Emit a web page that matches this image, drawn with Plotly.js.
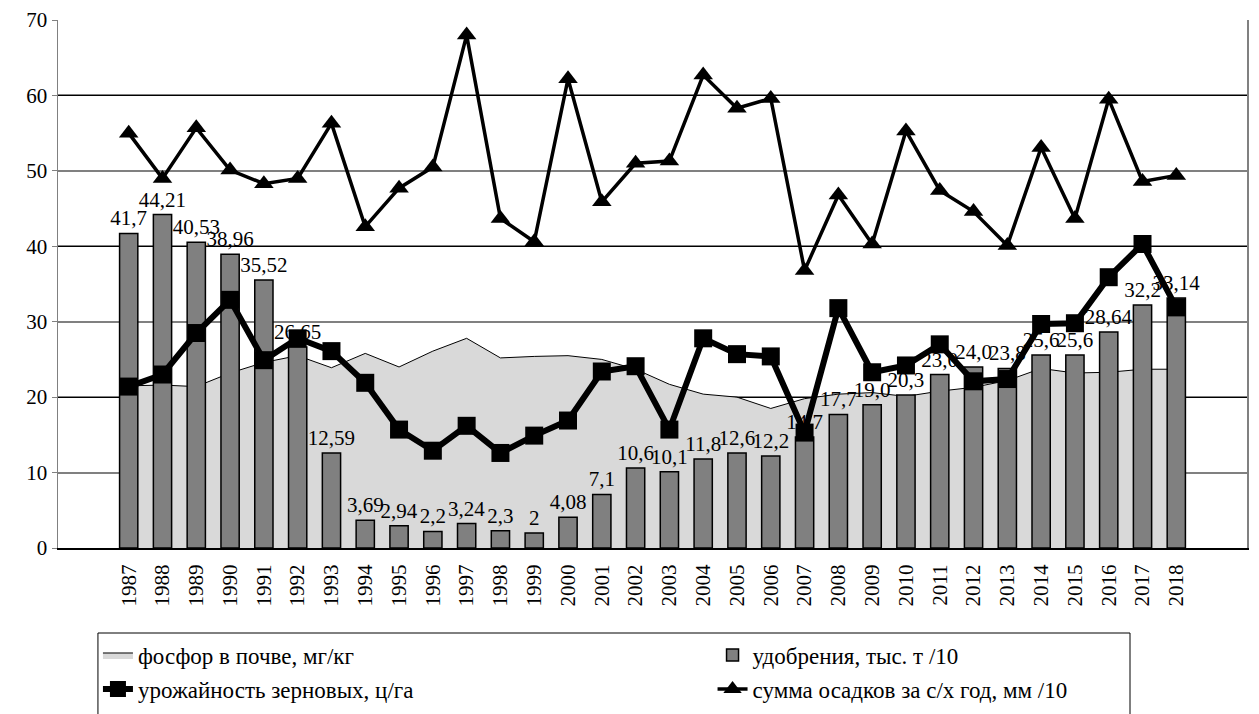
<!DOCTYPE html>
<html>
<head>
<meta charset="utf-8">
<script src="https://cdn.plot.ly/plotly-3.0.1.min.js"></script>
<style>html,body{margin:0;padding:0;background:#fff;}#chart{width:1259px;height:714px;}</style>
</head>
<body>
<div id="chart"></div>
<script>
const years = ["1987","1988","1989","1990","1991","1992","1993","1994","1995","1996","1997","1998","1999","2000","2001","2002","2003","2004","2005","2006","2007","2008","2009","2010","2011","2012","2013","2014","2015","2016","2017","2018"];
const phosphorus = [21.5,21.6,21.4,23.2,24.6,25.5,23.9,25.8,24.0,26.1,27.8,25.2,25.4,25.5,25.0,23.7,21.7,20.4,20.0,18.5,19.8,20.4,20.6,20.1,20.8,21.3,22.2,23.8,23.2,23.3,23.7,23.7];
const fertilizer = [41.7,44.21,40.53,38.96,35.52,26.65,12.59,3.69,2.94,2.2,3.24,2.3,2,4.08,7.1,10.6,10.1,11.8,12.6,12.2,14.7,17.7,19.0,20.3,23.0,24.0,23.8,25.6,25.6,28.64,32.2,33.14];
const fertilizerLabels = ["41,7","44,21","40,53","38,96","35,52","26,65","12,59","3,69","2,94","2,2","3,24","2,3","2","4,08","7,1","10,6","10,1","11,8","12,6","12,2","14,7","17,7","19,0","20,3","23,0","24,0","23,8","25,6","25,6","28,64","32,2","33,14"];
const grainYield = [21.4,23.0,28.5,32.9,24.9,27.8,26.1,21.9,15.7,12.9,16.2,12.6,14.9,16.9,23.4,24.1,15.7,27.8,25.7,25.4,15.3,31.8,23.3,24.2,27.0,22.1,22.4,29.7,29.8,35.9,40.3,31.9];
const precipitation = [55.0,49.0,55.7,50.1,48.3,49.0,56.3,42.6,47.7,50.5,68.0,43.7,40.6,62.2,45.9,51.0,51.3,62.7,58.3,59.6,36.8,46.8,40.3,55.3,47.4,44.6,40.1,53.1,43.7,59.5,48.6,49.4];
const yTicks = [0,10,20,30,40,50,60,70];

const FONT = "'Liberation Serif', 'Times New Roman', serif";

const traces = [
  {
    type: "scatter", mode: "lines", name: "фосфор в почве, мг/кг",
    x: years, y: phosphorus, xaxis: "x", yaxis: "y",
    fill: "tozeroy", fillcolor: "#d9d9d9",
    line: {color: "#000000", width: 1},
    legend: "legend", legendgroup: "a"
  },
  {
    type: "bar", name: "удобрения, тыс. т /10",
    x: years, y: fertilizer, xaxis: "x", yaxis: "y2",
    marker: {color: "#808080", line: {color: "#000000", width: 1.5}},
    text: fertilizerLabels, textposition: "outside", constraintext: "none",
    textfont: {family: FONT, size: 21, color: "#000000"},
    cliponaxis: false,
    legend: "legend2", legendgroup: "b"
  },
  {
    type: "scatter", mode: "lines+markers", name: "урожайность зерновых, ц/га",
    x: years, y: grainYield, xaxis: "x", yaxis: "y2",
    line: {color: "#000000", width: 6},
    marker: {symbol: "square", size: 18, color: "#000000"},
    cliponaxis: false,
    legend: "legend", legendgroup: "c"
  },
  {
    type: "scatter", mode: "lines+markers", name: "сумма осадков за с/х год, мм /10",
    x: years, y: precipitation, xaxis: "x", yaxis: "y2",
    line: {color: "#000000", width: 3.5},
    marker: {symbol: "triangle-up", size: 17, color: "#000000"},
    cliponaxis: false,
    legend: "legend2", legendgroup: "d"
  }
];

const legendBase = {
  orientation: "v", xanchor: "left", yanchor: "top",
  y: -0.162, borderwidth: 0, bgcolor: "rgba(0,0,0,0)",
  font: {family: FONT, size: 23, color: "#000000"},
  traceorder: "grouped", tracegroupgap: 1
};

const layout = {
  width: 1259, height: 714,
  margin: {l: 58, r: 12, t: 20, b: 166, autoexpand: false},
  paper_bgcolor: "#ffffff", plot_bgcolor: "#ffffff",
  font: {family: FONT, size: 20, color: "#000000"},
  showlegend: true,
  bargap: 0.46,
  xaxis: {
    type: "category", tickangle: -90, showgrid: false,
    showline: true, linecolor: "#000000", linewidth: 2,
    ticks: "outside", ticklen: 6, tickcolor: "rgba(0,0,0,0)",
    tickfont: {family: FONT, size: 21, color: "#000000"},
    automargin: false
  },
  yaxis: {
    range: [0, 70], tickvals: yTicks, ticktext: yTicks.map(String),
    showgrid: true, gridcolor: "#808080", gridwidth: 2,
    showline: true, linecolor: "#808080", linewidth: 1.5,
    ticks: "outside", ticklen: 5, tickcolor: "#808080",
    tickfont: {family: FONT, size: 21, color: "#000000"},
    zeroline: false, automargin: false, fixedrange: true
  },
  yaxis2: {
    range: [0, 70], overlaying: "y", side: "right",
    tickvals: [20, 40, 60], showticklabels: false,
    showgrid: true, gridcolor: "#000000", gridwidth: 1,
    showline: true, linecolor: "#808080", linewidth: 1.5,
    ticks: "", zeroline: false, automargin: false, fixedrange: true
  },
  legend: Object.assign({}, legendBase, {x: 0.0336}),
  legend2: Object.assign({}, legendBase, {x: 0.5505}),
  shapes: [{
    type: "rect", xref: "paper", yref: "paper",
    x0: 0.0336, x1: 0.9016, y0: -0.161, y1: -0.34,
    line: {color: "#000000", width: 1}, fillcolor: "rgba(0,0,0,0)", layer: "below"
  }]
};

Plotly.newPlot("chart", traces, layout, {staticPlot: true, displayModeBar: false});
</script>
</body>
</html>
